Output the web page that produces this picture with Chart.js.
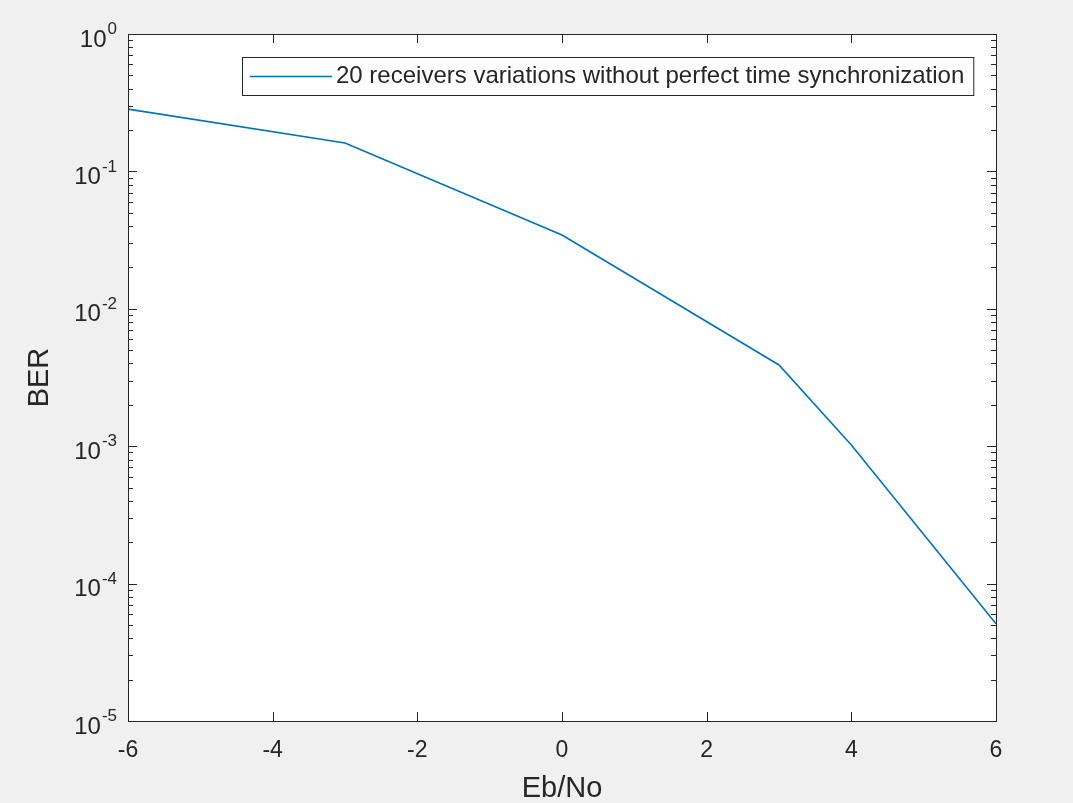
<!DOCTYPE html>
<html>
<head>
<meta charset="utf-8">
<script src="https://cdn.jsdelivr.net/npm/chart.js@4"></script>
<style>
  html, body { margin: 0; padding: 0; background: #f0f0f0; }
  #wrap { width: 1073px; height: 803px; }
</style>
</head>
<body>
<div id="wrap"><canvas id="berChart"></canvas></div>
<script>
// data
const ebNo = [-6, -3, 0, 3, 4, 6];
const ber = [0.284, 0.161, 0.0344, 0.0039, 0.00102, 0.000051];
const seriesLabel = '20 receivers variations without perfect time synchronization';
const xTicks = [-6, -4, -2, 0, 2, 4, 6];
const yDecades = [-5, -4, -3, -2, -1, 0];
const xTitle = 'Eb/No';
const yTitle = 'BER';

const FONT = '"Liberation Sans", Arial, sans-serif';
const AXIS_COLOR = '#262626';
const LINE_COLOR = '#0072bd';

// MATLAB-like box, inward ticks, superscript labels and legend inside the axes
const matlabAxes = {
  id: 'matlabAxes',
  beforeDraw(chart) {
    const { ctx, chartArea: a } = chart;
    ctx.save();
    ctx.fillStyle = '#f0f0f0';
    ctx.fillRect(0, 0, chart.width, chart.height);
    ctx.fillStyle = '#ffffff';
    ctx.fillRect(a.left, a.top, a.right - a.left, a.bottom - a.top);
    ctx.restore();
  },
  afterDraw(chart) {
    const { ctx, chartArea: a, scales: { x, y } } = chart;
    ctx.save();
    ctx.strokeStyle = AXIS_COLOR;
    ctx.lineWidth = 1;

    // ticks
    ctx.beginPath();
    xTicks.forEach(v => {
      const px = Math.round(x.getPixelForValue(v)) + 0.5;
      ctx.moveTo(px, a.bottom); ctx.lineTo(px, a.bottom - 9);
      ctx.moveTo(px, a.top); ctx.lineTo(px, a.top + 9);
    });
    yDecades.forEach(d => {
      for (let k = 1; k <= 9; k++) {
        const v = k * Math.pow(10, d);
        if (v > 1) break;
        const py = Math.round(y.getPixelForValue(v)) + 0.5;
        const len = k === 1 ? 9 : 5;
        ctx.moveTo(a.left, py); ctx.lineTo(a.left + len, py);
        ctx.moveTo(a.right, py); ctx.lineTo(a.right - len, py);
      }
    });
    ctx.stroke();

    // box
    ctx.strokeRect(Math.round(a.left) + 0.5, Math.round(a.top) + 0.5,
      Math.round(a.right - a.left), Math.round(a.bottom - a.top));

    // x tick labels
    ctx.fillStyle = AXIS_COLOR;
    ctx.font = '23px ' + FONT;
    ctx.textAlign = 'center';
    ctx.textBaseline = 'middle';
    xTicks.forEach(v => {
      ctx.fillText(String(v), x.getPixelForValue(v), a.bottom + 30);
    });

    // y tick labels 10^n
    yDecades.forEach(d => {
      const py = y.getPixelForValue(Math.pow(10, d));
      const exp = String(d);
      ctx.font = '17px ' + FONT;
      ctx.textAlign = 'right';
      const ew = ctx.measureText(exp).width;
      ctx.fillText(exp, a.left - 11, py - 4.5);
      ctx.font = '24px ' + FONT;
      ctx.fillText('10', a.left - 12 - ew, py + 6);
    });

    // axis titles
    ctx.font = '29px ' + FONT;
    ctx.textAlign = 'center';
    ctx.fillText(xTitle, (a.left + a.right) / 2, a.bottom + 68);
    ctx.save();
    ctx.translate(40, (a.top + a.bottom) / 2);
    ctx.rotate(-Math.PI / 2);
    ctx.fillText(yTitle, 0, 0);
    ctx.restore();

    // legend
    const label = chart.data.datasets[0].label;
    ctx.font = '24px ' + FONT;
    ctx.textAlign = 'left';
    const tw = ctx.measureText(label).width;
    const bx = 242.5, by = 57.5, bh = 38;
    const bw = (336 - 242) + tw + 9;
    ctx.fillStyle = '#ffffff';
    ctx.fillRect(bx, by, bw, bh);
    ctx.strokeStyle = AXIS_COLOR;
    ctx.strokeRect(bx, by, bw, bh);
    ctx.strokeStyle = LINE_COLOR;
    ctx.lineWidth = 1.6;
    ctx.beginPath();
    ctx.moveTo(250, by + bh / 2);
    ctx.lineTo(332, by + bh / 2);
    ctx.stroke();
    ctx.fillStyle = AXIS_COLOR;
    ctx.fillText(label, 336, by + bh / 2);
    ctx.restore();
  }
};

new Chart(document.getElementById('berChart'), {
  type: 'line',
  data: {
    datasets: [{
      label: seriesLabel,
      data: ebNo.map((v, i) => ({ x: v, y: ber[i] })),
      borderColor: LINE_COLOR,
      borderWidth: 1.6,
      pointRadius: 0,
      tension: 0,
      fill: false
    }]
  },
  options: {
    responsive: true,
    maintainAspectRatio: false,
    animation: false,
    layout: { padding: { left: 128, right: 77, top: 34, bottom: 82 } },
    scales: {
      x: { type: 'linear', min: -6, max: 6, display: false },
      y: { type: 'logarithmic', min: 1e-5, max: 1, display: false }
    },
    plugins: {
      legend: { display: false },
      tooltip: { enabled: false }
    }
  },
  plugins: [matlabAxes]
});
</script>
</body>
</html>
